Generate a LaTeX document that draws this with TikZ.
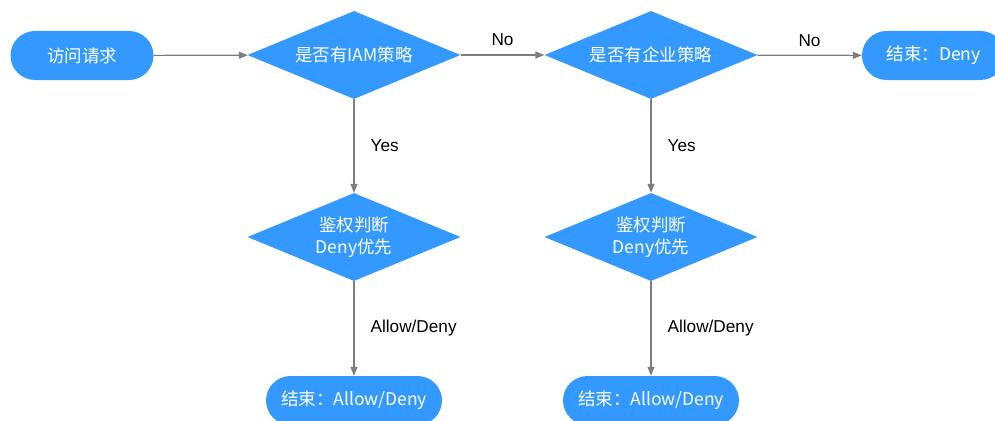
\documentclass[tikz,border=0pt]{standalone}
\usepackage{fontspec}
\setmainfont{Liberation Sans}
\newfontfamily\cjkfont{Noto Sans CJK SC}
\usepackage{xcolor}
\usetikzlibrary{shapes.geometric,arrows.meta,positioning}
\definecolor{flowblue}{RGB}{51,153,255}
\definecolor{flowgrey}{RGB}{125,125,125}
\tikzset{
    flow-pill/.style = {fill=flowblue, text=white, rectangle, rounded corners=24.5pt, minimum height=49pt, inner sep=0pt, font=\cjkfont\fontsize{17.5}{21}\selectfont},
    flow-diamond/.style = {fill=flowblue, text=white, diamond, aspect=2.42, minimum width=213pt, minimum height=88pt, inner sep=0pt, align=center, font=\cjkfont\fontsize{17.5}{22}\selectfont},
    flow-arrow/.style = {draw=flowgrey, line width=1.2pt, -{Triangle[length=9pt,width=7pt]}},
    flow-label/.style = {text=black, font=\fontsize{17.2}{20}\selectfont, inner sep=0pt},
}
\begin{document}
\begin{tikzpicture}[x=1pt,y=-1pt]
\useasboundingbox (0,0) rectangle (995,420);
% top row
\node [flow-pill, minimum width=143pt] (request) at (82,55.5) {访问请求};
\node [flow-diamond] (iam) at (354,55) {是否有IAM策略};
\node [flow-diamond] (ent) at (651,55) {是否有企业策略};
\node [flow-pill, minimum width=143pt] (deny) at (933.5,55.5) {结束：Deny};
% second row
\node [flow-diamond] (iamcheck) at (354,237) {鉴权判断\\Deny优先};
\node [flow-diamond] (entcheck) at (651,237) {鉴权判断\\Deny优先};
% bottom row
\node [flow-pill, minimum width=176pt] (iamend) at (354,400.5) {结束：Allow/Deny};
\node [flow-pill, minimum width=176pt] (entend) at (651,400.5) {结束：Allow/Deny};

\draw [flow-arrow] (request) -- (iam);
\draw [flow-arrow] (iam) -- node[flow-label, above=9pt] {No} (ent);
\draw [flow-arrow] (ent) -- node[flow-label, above=8pt] {No} (deny);
\draw [flow-arrow] (iam) -- node[flow-label, right=16pt] {Yes} (iamcheck);
\draw [flow-arrow] (ent) -- node[flow-label, right=16pt] {Yes} (entcheck);
\draw [flow-arrow] (iamcheck) -- node[flow-label, right=16pt] {Allow/Deny} (iamend);
\draw [flow-arrow] (entcheck) -- node[flow-label, right=16pt] {Allow/Deny} (entend);
\end{tikzpicture}
\end{document}
